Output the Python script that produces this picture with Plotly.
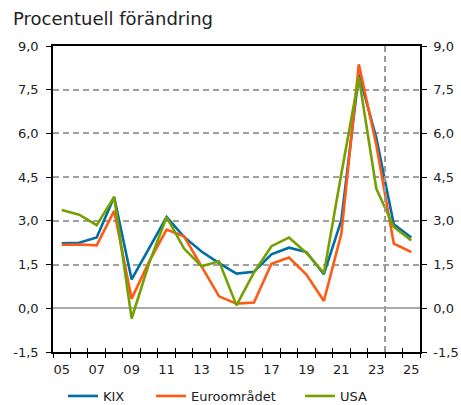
import plotly.graph_objects as go

years = list(range(2005, 2026))
kix = [2.23, 2.25, 2.43, 3.82, 0.99, 2.05, 3.13, 2.45, 1.95, 1.55, 1.19, 1.25, 1.85, 2.08, 1.93, 1.17, 3.02, 8.03, 5.85, 2.88, 2.43]
euro = [2.18, 2.19, 2.16, 3.34, 0.33, 1.60, 2.70, 2.47, 1.44, 0.41, 0.16, 0.20, 1.53, 1.74, 1.16, 0.25, 2.56, 8.37, 5.60, 2.22, 1.93]
usa = [3.37, 3.21, 2.85, 3.82, -0.35, 1.55, 3.13, 2.05, 1.44, 1.61, 0.10, 1.23, 2.13, 2.43, 1.90, 1.21, 4.62, 7.93, 4.11, 2.79, 2.33]

x_tick_vals = [2005, 2007, 2009, 2011, 2013, 2015, 2017, 2019, 2021, 2023, 2025]
x_tick_text = ["05", "07", "09", "11", "13", "15", "17", "19", "21", "23", "25"]
y_tick_vals = [-1.5, 0.0, 1.5, 3.0, 4.5, 6.0, 7.5, 9.0]
y_tick_text = ["-1,5", "0,0", "1,5", "3,0", "4,5", "6,0", "7,5", "9,0"]
year_bounds = [y + 0.5 for y in range(2004, 2026)]
forecast_start = 2023.5
title_text = "Procentuell förändring"

FONT = "DejaVu Sans"
W, H = 461, 405
series = [("KIX", kix, "#006ea6", "legend", 63),
          ("Euroområdet", euro, "#ff5a14", "legend2", 151),
          ("USA", usa, "#76a000", "legend3", 300)]

fig = go.Figure()
for name, vals, col, leg, _ in series:
    fig.add_trace(go.Scatter(x=years, y=vals, name=name, mode="lines", legend=leg,
                             line=dict(color=col, width=2.6)))
# invisible trace for overlay axes (right y axis, inner x ticks)
fig.add_trace(go.Scatter(x=years, y=kix, xaxis="x2", yaxis="y2", mode="lines",
                         line=dict(color="rgba(0,0,0,0)"), showlegend=False, hoverinfo="skip"))

fig.add_vline(x=forecast_start, line=dict(color="#999999", width=2, dash="6px,4px"))

axis_font = dict(family=FONT, size=13, color="#222222")
legend_common = dict(orientation="h", xref="container", yref="container", xanchor="left",
                     y=9 / H, yanchor="middle", itemwidth=30, bgcolor="rgba(0,0,0,0)",
                     font=dict(family=FONT, size=13, color="#222222"))
layout_legends = {}
for name, vals, col, leg, px in series:
    layout_legends[leg] = dict(legend_common, x=px / W)

fig.update_layout(
    width=W, height=H,
    margin=dict(l=53, r=41, t=46, b=53, autoexpand=False),
    paper_bgcolor="white", plot_bgcolor="white",
    font=dict(family=FONT, size=13, color="#222222"),
    showlegend=True,
    **layout_legends,
    xaxis=dict(range=[2004.5, 2025.5], tickmode="array", tickvals=x_tick_vals, ticktext=x_tick_text,
               ticks="outside", ticklen=5, tickcolor="rgba(0,0,0,0)",
               minor=dict(tickmode="array", tickvals=year_bounds, ticks="outside", ticklen=4,
                          tickcolor="black", tickwidth=1),
               showline=True, linecolor="black", linewidth=1.5, mirror=True,
               showgrid=False, zeroline=False, tickfont=axis_font, automargin=False),
    xaxis2=dict(range=[2004.5, 2025.5], overlaying="x", anchor="y", side="bottom",
                tickmode="array", tickvals=year_bounds, ticks="inside", ticklen=4,
                tickcolor="black", showticklabels=False, showline=False, showgrid=False,
                zeroline=False, automargin=False),
    yaxis=dict(range=[-1.5, 9.0], tickmode="array", tickvals=y_tick_vals, ticktext=y_tick_text,
               ticks="outside", ticklen=5, tickcolor="black", ticklabelstandoff=5,
               showline=True, linecolor="black", linewidth=1.5,
               showgrid=True, gridcolor="#a0a0a0", gridwidth=1.5, griddash="6px,4px",
               zeroline=True, zerolinecolor="#aaaaaa", zerolinewidth=2, tickfont=axis_font,
               automargin=False),
    yaxis2=dict(range=[-1.5, 9.0], overlaying="y", side="right", anchor="x",
                tickmode="array", tickvals=y_tick_vals, ticktext=y_tick_text,
                ticks="outside", ticklen=5, tickcolor="black", ticklabelstandoff=4,
                showline=True, linecolor="black", linewidth=1.5,
                showgrid=False, zeroline=False, tickfont=axis_font, automargin=False),
)
fig.add_annotation(text=title_text, xref="paper", yref="paper", x=-0.115, y=1.09,
                   xanchor="left", yanchor="middle", showarrow=False,
                   font=dict(family=FONT, size=18, color="#222222"))

fig.write_html("out.html", config={"displayModeBar": False},
               post_script="document.body.style.margin='0';document.body.style.overflow='hidden';")
